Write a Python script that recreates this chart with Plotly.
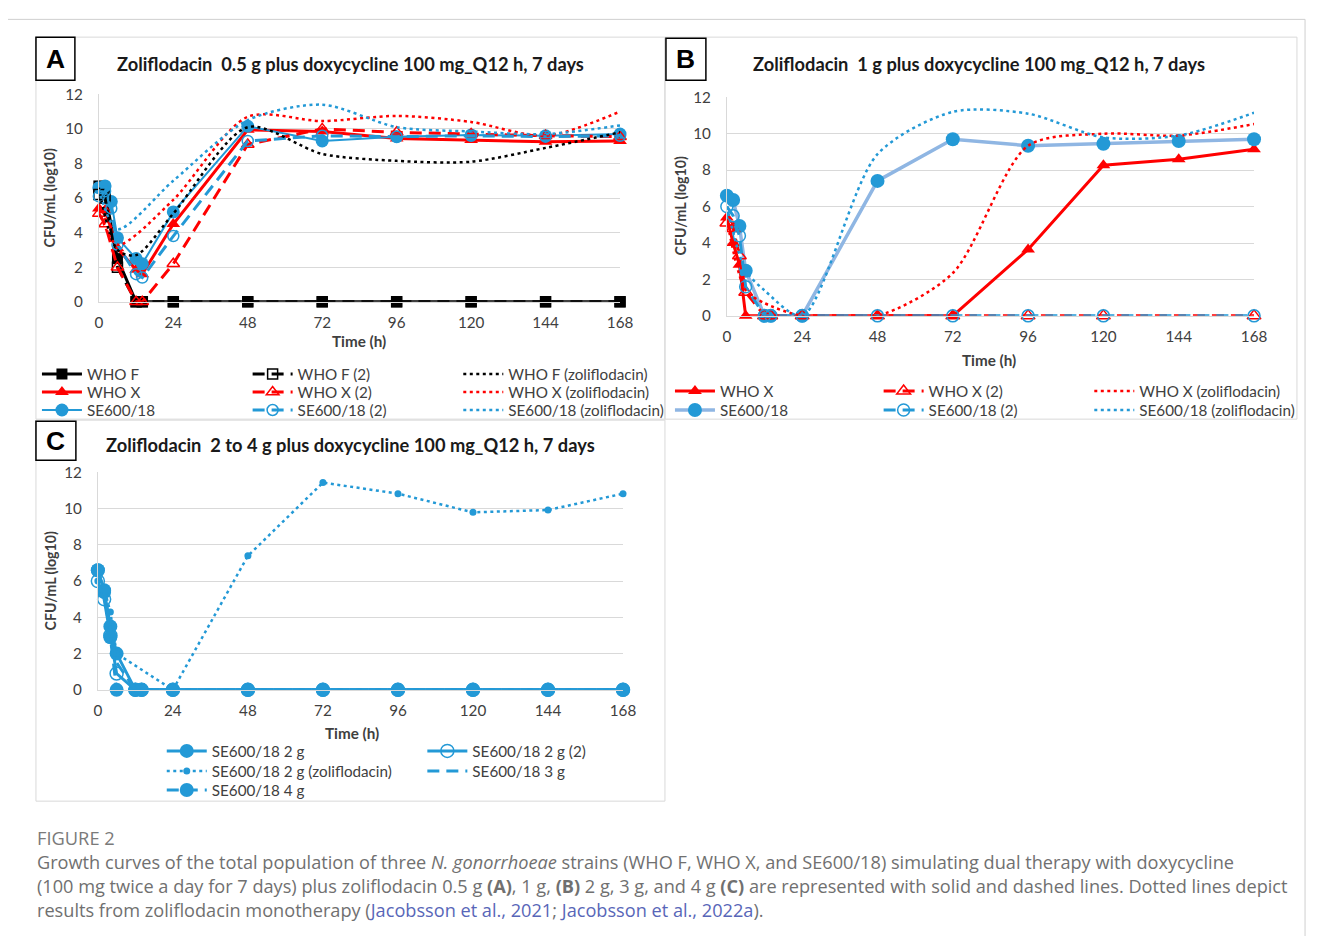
import plotly.graph_objects as go

W, H = 1328, 944
PAD = 8                      # default page margin of the html body
FW, FH = W - 2 * PAD, H - 2 * PAD
# measured mapping page -> photographed picture (compensated here)
SX, BX = 0.9886, 3.1
SY, BY = 0.978, 11.1
FS = 1.015

def fx(x): return ((x - BX) / SX - PAD) / FW
def fy(y): return 1 - ((y - BY) / SY - PAD) / FH

# ---------------- data ----------------
T = [0, 2, 4, 6, 12, 14, 24, 48, 72, 96, 120, 144, 168]

# Panel A: zoliflodacin 0.5 g + doxycycline
A_WHO_F     = [6.7, 6.3, None, 2.5, 0, 0, 0, 0, 0, 0, 0, 0, 0]
A_WHO_F_2   = [6.2, 6.0, None, 2.0, 0, 0, 0, 0, 0, 0, 0, 0, 0]
A_WHO_F_Z   = [6.6, None, None, 3.0, 2.7, None, 5.1, 10.1, 8.55, 8.15, 8.1, 8.9, 9.8]
A_WHO_X     = [5.4, 5.3, None, 3.1, 1.85, 1.6, 4.5, 9.95, 9.85, 9.45, 9.35, 9.25, 9.3]
A_WHO_X_2   = [5.1, 4.5, None, 2.0, 0, 0, 2.2, 9.1, 10.0, 9.8, 9.7, 9.6, 9.55]
A_WHO_X_Z   = [5.3, None, None, 3.3, None, None, 5.9, 10.7, 10.45, 10.75, 10.4, 9.6, 11.0]
A_SE        = [6.6, 6.7, 5.8, 3.7, 2.5, 2.2, 5.2, 10.15, 9.3, 9.55, 9.65, 9.6, 9.7]
A_SE_2      = [6.1, 6.4, 5.4, 3.3, 1.6, 1.4, 3.8, 9.3, 9.6, 9.55, 9.6, 9.55, 9.6]
A_SE_Z      = [6.5, None, None, 4.2, None, None, 7.0, 10.5, 11.4, 10.1, 9.85, 9.7, 10.2]

# Panel B: zoliflodacin 1 g + doxycycline
B_WHO_X     = [5.4, 4.0, 2.8, 0, 0, 0, 0, 0, 0, 3.65, 8.27, 8.6, 9.15]
B_WHO_X_2   = [5.1, 4.8, 3.3, 1.3, 0, 0, 0, 0, 0, 0, 0, None, 0]
B_WHO_X_Z   = [5.3, None, None, 1.4, 0.7, None, 0, 0, 2.35, 9.34, 10.0, 9.9, 10.53]
B_SE        = [6.6, 6.36, 4.93, 2.48, 0, 0, 0, 7.41, 9.7, 9.34, 9.45, 9.6, 9.7]
B_SE_2      = [6.0, 5.5, 4.4, 1.6, 0, 0, 0, 0, 0, 0, 0, None, 0]
B_SE_Z      = [6.0, None, None, 2.5, 1.4, None, 0, 8.88, 11.2, 11.1, 9.8, 9.9, 11.15]

# Panel C: zoliflodacin 2 to 4 g + doxycycline
C_2G        = [6.6, 5.5, 3.5, 2.0, 0, 0, 0, 0, 0, 0, 0, 0, 0]
C_2G_2      = [6.0, 5.0, 3.0, 0.9, 0, 0, 0, 0, 0, 0, 0, 0, 0]
C_2G_Z      = [6.0, 5.6, 4.3, 2.0, None, None, 0, 7.39, 11.43, 10.82, 9.79, 9.92, 10.82]
C_3G        = [6.6, 5.4, 3.4, 1.5, 0, 0, 0, 0, 0, 0, 0, 0, 0]
C_4G        = [6.6, 5.4, 2.9, 0, 0, 0, 0, 0, 0, 0, 0, 0, 0]

X_TICKS = [0, 24, 48, 72, 96, 120, 144, 168]
Y_TICKS = [0, 2, 4, 6, 8, 10, 12]

TITLES = [
    "Zoliflodacin  0.5 g plus doxycycline 100 mg_Q12 h, 7 days",
    "Zoliflodacin  1 g plus doxycycline 100 mg_Q12 h, 7 days",
    "Zoliflodacin  2 to 4 g plus doxycycline 100 mg_Q12 h, 7 days",
]

RED = "#FF0000"
BLACK = "#000000"
BLUE = "#2399D6"
LBLUE = "#8FB6E3"
DOT = "3px,3.5px"
DASH = "12px,7px"
FONT = "Lato"
TXT = "#404040"

fig = go.Figure()
legends = {}

def add(name, y, axis, pos, color, width, dash, symbol=None, msize=12,
        mcolor=None, spline=False):
    lname = "legend" if not legends else "legend%d" % (len(legends) + 1)
    legends[lname] = pos
    xs = [t for t, v in zip(T, y) if v is not None]
    ys = [v for v in y if v is not None]
    mode = "lines+markers" if symbol else "lines"
    kw = dict(x=xs, y=ys, name=name, mode=mode, legend=lname,
              xaxis="x" + axis, yaxis="y" + axis, cliponaxis=False,
              line=dict(color=color, width=width, dash=dash,
                        shape="spline" if spline else "linear",
                        smoothing=0.8 if spline else None),
              hoverinfo="skip")
    if symbol:
        mc = mcolor or color
        if symbol.endswith("-open"):
            kw["marker"] = dict(symbol=symbol, size=msize, color=mc,
                                line=dict(color=mc, width=1.5))
        else:
            kw["marker"] = dict(symbol=symbol, size=msize, color=mc,
                                line=dict(width=0))
    fig.add_trace(go.Scatter(**kw))

# legend columns / rows (reference pixels)
AC = [36, 247, 458]; AR = [374, 392, 410]
BC = [670, 879, 1090]; BR = [391, 410]
CC = [161, 422]; CR = [750, 770, 789]

# ---- Panel A ----
add("WHO F", A_WHO_F, "", (AC[0], AR[0]), BLACK, 3, "solid", "square", 11)
add("WHO X", A_WHO_X, "", (AC[0], AR[1]), RED, 3, "solid", "triangle-up", 12)
add("SE600/18", A_SE, "", (AC[0], AR[2]), BLUE, 2, "solid", "circle", 13)
add("WHO F (2)", A_WHO_F_2, "", (AC[1], AR[0]), BLACK, 3, DASH, "square-open", 10)
add("WHO X (2)", A_WHO_X_2, "", (AC[1], AR[1]), RED, 3, DASH, "triangle-up-open", 11)
add("SE600/18 (2)", A_SE_2, "", (AC[1], AR[2]), BLUE, 3, DASH, "circle-open", 11)
add("WHO F (zoliflodacin)", A_WHO_F_Z, "", (AC[2], AR[0]), BLACK, 2.5, DOT, spline=True)
add("WHO X (zoliflodacin)", A_WHO_X_Z, "", (AC[2], AR[1]), RED, 2.5, DOT, spline=True)
add("SE600/18 (zoliflodacin)", A_SE_Z, "", (AC[2], AR[2]), BLUE, 2.5, DOT, spline=True)

# ---- Panel B ----
add("WHO X", B_WHO_X, "2", (BC[0], BR[0]), RED, 3, "solid", "triangle-up", 12)
add("SE600/18", B_SE, "2", (BC[0], BR[1]), LBLUE, 3.5, "solid", "circle", 14, mcolor=BLUE)
add("WHO X (2)", B_WHO_X_2, "2", (BC[1], BR[0]), RED, 3, DASH, "triangle-up-open", 12)
add("SE600/18 (2)", B_SE_2, "2", (BC[1], BR[1]), BLUE, 3, DASH, "circle-open", 12)
add("WHO X (zoliflodacin)", B_WHO_X_Z, "2", (BC[2], BR[0]), RED, 2.5, DOT, spline=True)
add("SE600/18 (zoliflodacin)", B_SE_Z, "2", (BC[2], BR[1]), BLUE, 2.5, DOT, spline=True)

# ---- Panel C ----
add("SE600/18 2 g", C_2G, "3", (CC[0], CR[0]), BLUE, 3, "solid", "circle", 14)
add("SE600/18 2 g (zoliflodacin)", C_2G_Z, "3", (CC[0], CR[1]), BLUE, 2.5, DOT, "circle", 7)
add("SE600/18 4 g", C_4G, "3", (CC[0], CR[2]), BLUE, 3, DASH, "circle", 14)
add("SE600/18 2 g (2)", C_2G_2, "3", (CC[1], CR[0]), BLUE, 3, "solid", "circle-open", 13)
add("SE600/18 3 g", C_3G, "3", (CC[1], CR[1]), BLUE, 3, DASH)

# ---------------- axes ----------------
panels = {
    "": dict(x0=98, x1=620, y0=302, y1=95),
    "2": dict(x0=727, x1=1255, y0=316, y1=98),
    "3": dict(x0=97, x1=623, y0=689, y1=472),
}
for k, p in panels.items():
    xa = dict(domain=[fx(p["x0"]), fx(p["x1"])], range=[0, 168], tickvals=X_TICKS,
              showgrid=False, zeroline=False, showline=True, linecolor="#d9d9d9",
              linewidth=1, ticks="", ticklabelstandoff=7,
              tickfont=dict(family=FONT, size=15 * FS, color=TXT),
              anchor="y" + k, fixedrange=True)
    ya = dict(domain=[fy(p["y0"]), fy(p["y1"])], range=[0, 12], tickvals=Y_TICKS,
              showgrid=True, gridcolor="#d9d9d9", gridwidth=1, zeroline=False,
              showline=True, linecolor="#d9d9d9", linewidth=1, ticks="",
              ticklabelstandoff=12,
              tickfont=dict(family=FONT, size=15 * FS, color=TXT),
              anchor="x" + k, fixedrange=True)
    fig.update_layout(**{"xaxis" + k: xa, "yaxis" + k: ya})

# ---------------- legends (one per entry, placed as in the reference grid) ----
for lname, (lx, ly) in legends.items():
    fig.update_layout(**{lname: dict(
        x=fx(lx), y=fy(ly), xanchor="left", yanchor="middle",
        orientation="v", bgcolor="rgba(0,0,0,0)", borderwidth=0,
        font=dict(family=FONT, size=15 * FS, color=TXT), itemwidth=40,
        tracegroupgap=0, itemclick=False, itemdoubleclick=False)})

# ---------------- decorations ----------------
shapes = []
def rect(x0, y0, x1, y1, color, width, raw=False):
    if raw:
        X0, X1, Y0, Y1 = x0, x1, y0, y1
    else:
        X0, X1, Y0, Y1 = fx(x0), fx(x1), fy(y0), fy(y1)
    shapes.append(dict(type="rect", xref="paper", yref="paper",
                       x0=X0, x1=X1, y0=Y0, y1=Y1,
                       line=dict(color=color, width=width), layer="below"))

rect(fx(4), -0.05, 0.9985, 0.9985, "#cfcfcf", 1, raw=True)   # outer frame
rect(35, 38, 665, 419, "#d9d9d9", 1)      # panel A frame
rect(665, 38, 1298, 419, "#d9d9d9", 1)    # panel B frame
rect(35, 420, 665, 800, "#d9d9d9", 1)     # panel C frame
rect(35, 38, 74, 81, "#000000", 1.5)      # label boxes
rect(666, 39, 706, 81, "#000000", 1.5)
rect(35, 421, 75, 460, "#000000", 1.5)

ann = []
def text(x, y, s, size, color="#000000", family=FONT, xanchor="center",
         angle=0):
    ann.append(dict(x=fx(x), y=fy(y), xref="paper", yref="paper", text=s,
                    showarrow=False, xanchor=xanchor, yanchor="middle",
                    textangle=angle,
                    font=dict(size=size * FS, color=color, family=family)))

# panel letters
text(54.5, 59.5, "<b>A</b>", 26, family="Liberation Sans")
text(686, 60, "<b>B</b>", 26, family="Liberation Sans")
text(55, 440.5, "<b>C</b>", 26, family="Liberation Sans")
# titles
text(350, 65, "<b>" + TITLES[0] + "</b>", 18, "#1a1a1a")
text(980, 65, "<b>" + TITLES[1] + "</b>", 18, "#1a1a1a")
text(350, 445, "<b>" + TITLES[2] + "</b>", 18, "#1a1a1a")
# axis titles
text(359, 341, "<b>Time (h)</b>", 15, TXT)
text(990, 360, "<b>Time (h)</b>", 15, TXT)
text(352, 732, "<b>Time (h)</b>", 15, TXT)
text(49, 198, "<b>CFU/mL (log10)</b>", 14, TXT, angle=-90)
text(681, 206, "<b>CFU/mL (log10)</b>", 14, TXT, angle=-90)
text(50, 580, "<b>CFU/mL (log10)</b>", 14, TXT, angle=-90)

# caption
CAPF = "Open Sans"
CAP = "#707070"
LINK = "#5866b8"
CS = 17.9
text(34, 836, "FIGURE 2", 18, "#7a7a7a", family=CAPF, xanchor="left")
text(34, 861, "Growth curves of the total population of three <i>N. gonorrhoeae</i> strains "
     "(WHO F, WHO X, and SE600/18) simulating dual therapy with doxycycline",
     CS, CAP, family=CAPF, xanchor="left")
text(34, 885, "(100 mg twice a day for 7 days) plus zoliflodacin 0.5 g <b>(A)</b>, 1 g, "
     "<b>(B)</b> 2 g, 3 g, and 4 g <b>(C)</b> are represented with solid and dashed lines. "
     "Dotted lines depict", CS, CAP, family=CAPF, xanchor="left")
text(34, 909, "results from zoliflodacin monotherapy (<span style='color:" + LINK +
     "'>Jacobsson et al., 2021</span>; <span style='color:" + LINK +
     "'>Jacobsson et al., 2022a</span>).", CS, CAP, family=CAPF, xanchor="left")

fig.update_layout(
    width=FW, height=FH, margin=dict(l=0, r=0, t=0, b=0),
    paper_bgcolor="white", plot_bgcolor="white",
    shapes=shapes, annotations=ann, showlegend=True,
    font=dict(family=FONT, color=TXT),
)

fig.write_html("out.html")
